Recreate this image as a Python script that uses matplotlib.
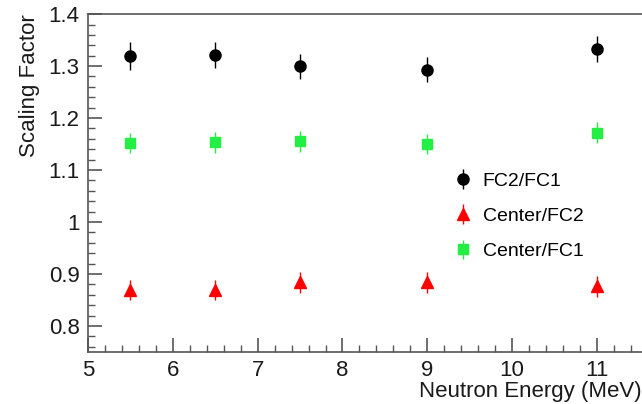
import numpy as np
import matplotlib.pyplot as plt
from matplotlib.ticker import MultipleLocator

plt.rcParams['font.family'] = ['Liberation Sans', 'DejaVu Sans']

energy = [5.5, 6.5, 7.5, 9.0, 11.0]
fc2_fc1 = [1.320, 1.321, 1.300, 1.293, 1.332]
fc2_fc1_err = [0.027, 0.025, 0.024, 0.024, 0.025]
center_fc2 = [0.869, 0.869, 0.884, 0.884, 0.876]
center_fc2_err = [0.020, 0.020, 0.020, 0.020, 0.020]
center_fc1 = [1.152, 1.153, 1.155, 1.150, 1.172]
center_fc1_err = [0.020, 0.020, 0.020, 0.020, 0.020]

fig = plt.figure(figsize=(6.42, 4.04), dpi=100)
ax = fig.add_axes([0.137, 0.129, 0.863, 0.836])

ax.errorbar(energy, fc2_fc1, yerr=fc2_fc1_err, fmt='o', color='black',
            ms=8, elinewidth=1, capsize=0, label='FC2/FC1')
ax.errorbar(energy, center_fc2, yerr=center_fc2_err, fmt='^', color='#ff0000',
            ms=8, elinewidth=1, capsize=0, label='Center/FC2')
ax.errorbar(energy, center_fc1, yerr=center_fc1_err, fmt='s', color='#22ee44',
            ms=7.5, elinewidth=1, capsize=0, label='Center/FC1')

ax.set_xlim(5, 11.53)
ax.set_ylim(0.75, 1.4)
ax.xaxis.set_major_locator(MultipleLocator(1))
ax.xaxis.set_minor_locator(MultipleLocator(0.2))
ax.yaxis.set_minor_locator(MultipleLocator(0.02))
ax.set_yticks([0.8, 0.9, 1.0, 1.1, 1.2, 1.3, 1.4])
ax.set_yticklabels(['0.8', '0.9', '1', '1.1', '1.2', '1.3', '1.4'])

for s in ['left', 'bottom', 'top']:
    ax.spines[s].set_color('#555555')
    ax.spines[s].set_linewidth(1.2)
ax.spines['right'].set_visible(False)

ax.tick_params(which='both', direction='in', colors='#555555', labelcolor='#1a1a1a',
               labelsize=16, top=False, right=False)
ax.tick_params(which='major', length=10, width=1.2, pad=6)
ax.tick_params(which='minor', length=5, width=1)

ax.set_xlabel('Neutron Energy (MeV)', fontsize=16, color='#1a1a1a', loc='right', labelpad=0)
ax.set_ylabel('Scaling Factor', fontsize=16, color='#1a1a1a', loc='top', labelpad=6)

ax.legend(loc='upper left', bbox_to_anchor=(0.639, 0.555), frameon=False,
          fontsize=14, handlelength=1.4, handletextpad=0.3, labelspacing=0.9,
          borderaxespad=0)

fig.savefig('out.png', dpi=100)
